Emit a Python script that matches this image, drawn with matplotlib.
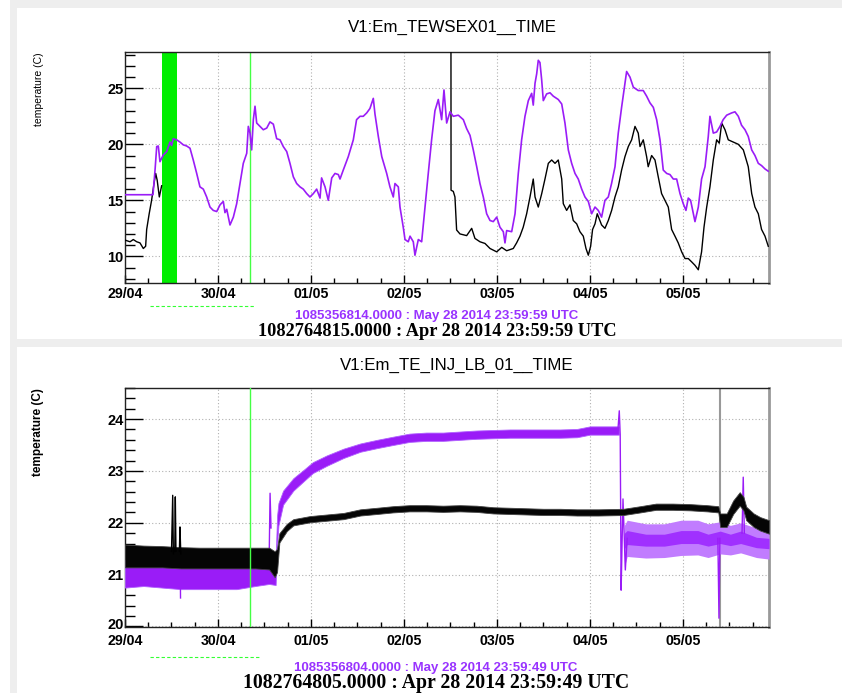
import numpy as np
import matplotlib
matplotlib.use("Agg")
import matplotlib.pyplot as plt
from matplotlib.patches import Rectangle
from matplotlib.lines import Line2D
from matplotlib.transforms import ScaledTranslation

# ---------------- data ----------------
day_labels = ["29/04", "30/04", "01/05", "02/05", "03/05", "04/05", "05/05"]
x_end_days = 6.925

# top panel (V1:Em_TEWSEX01__TIME), x in days since 29/04 00:00
top_purple_x = [0.000, 0.301, 0.323, 0.341, 0.358, 0.376, 0.412, 0.448, 0.484, 0.501, 0.519, 0.555, 0.591,
                0.627, 0.663, 0.699, 0.734, 0.771, 0.806, 0.842, 0.878, 0.914, 0.949, 0.986, 1.022, 1.057,
                1.075, 1.094, 1.129, 1.165, 1.201, 1.237, 1.272, 1.309, 1.326, 1.344, 1.362, 1.380, 1.398,
                1.416, 1.452, 1.487, 1.524, 1.559, 1.595, 1.631, 1.667, 1.702, 1.739, 1.774, 1.810, 1.846,
                1.882, 1.917, 1.954, 1.989, 2.025, 2.061, 2.097, 2.114, 2.151, 2.186, 2.223, 2.258, 2.294,
                2.312, 2.347, 2.401, 2.455, 2.490, 2.527, 2.562, 2.599, 2.634, 2.670, 2.688, 2.724, 2.761,
                2.814, 2.849, 2.885, 2.903, 2.939, 2.957, 2.992, 3.011, 3.046, 3.065, 3.100, 3.118, 3.154,
                3.190, 3.226, 3.261, 3.297, 3.333, 3.369, 3.405, 3.430, 3.459, 3.495, 3.530, 3.584, 3.638,
                3.674, 3.710, 3.745, 3.782, 3.817, 3.853, 3.889, 3.925, 3.960, 3.997, 4.032, 4.068, 4.086,
                4.104, 4.158, 4.194, 4.229, 4.265, 4.301, 4.337, 4.373, 4.390, 4.409, 4.427, 4.444, 4.462,
                4.480, 4.498, 4.534, 4.570, 4.605, 4.659, 4.696, 4.731, 4.767, 4.803, 4.839, 4.874, 4.911,
                4.946, 4.982, 5.018, 5.054, 5.089, 5.125, 5.161, 5.197, 5.232, 5.269, 5.304, 5.340, 5.376,
                5.394, 5.430, 5.466, 5.519, 5.573, 5.609, 5.645, 5.681, 5.717, 5.753, 5.788, 5.825, 5.860,
                5.896, 5.932, 5.968, 6.003, 6.032, 6.057, 6.082, 6.129, 6.165, 6.200, 6.237, 6.272, 6.290,
                6.326, 6.362, 6.398, 6.432, 6.470, 6.523, 6.559, 6.595, 6.630, 6.667, 6.702, 6.739, 6.774,
                6.810, 6.845, 6.882, 6.917]
top_purple_y = [15.5, 15.5, 17.7, 19.8, 19.85, 18.45, 19.05, 19.35, 20.2, 19.9, 20.5, 20.4, 20.2,
                19.95, 19.85, 19.65, 18.6, 17.4, 16.2, 16.0, 15.3, 14.4, 14.1, 14.0, 14.6, 14.9,
                13.9, 14.2, 12.8, 13.5, 14.7, 16.5, 18.3, 19.2, 21.6, 21.0, 19.5, 22.2, 23.4,
                21.9, 21.6, 21.3, 21.45, 22.0, 21.8, 20.5, 20.4, 19.8, 19.35, 18.3, 17.1, 16.5,
                16.2, 16.0, 15.6, 15.3, 15.6, 16.0, 15.2, 17.0, 16.2, 15.0, 17.0, 17.4, 17.3,
                16.9, 17.7, 18.9, 20.4, 22.2, 22.5, 22.5, 22.8, 23.2, 24.1, 22.7, 20.7, 18.9,
                17.4, 16.2, 15.3, 16.5, 16.2, 14.4, 12.6, 11.5, 11.3, 11.8, 11.3, 10.1, 11.5,
                11.3, 14.4, 17.4, 20.4, 23.0, 24.0, 22.2, 24.85, 21.9, 22.9, 22.5, 22.6, 22.2,
                21.4, 20.8, 19.5, 18.0, 16.5, 15.3, 13.8, 13.2, 13.1, 13.5, 12.6, 12.2, 11.2,
                12.3, 12.2, 13.8, 17.4, 20.4, 22.5, 23.9, 24.55, 23.5, 25.45, 26.3, 27.5, 27.3,
                25.8, 23.9, 24.5, 24.6, 24.3, 24.0, 23.6, 21.9, 19.5, 18.3, 17.4, 16.9, 16.0,
                15.3, 14.9, 13.8, 14.4, 14.1, 13.5, 15.0, 15.3, 16.5, 18.0, 21.0, 23.3, 25.45,
                26.5, 26.0, 25.1, 24.8, 24.8, 24.3, 23.7, 23.3, 22.2, 20.4, 17.7, 17.4, 17.3,
                16.9, 16.9, 15.6, 14.7, 14.1, 15.2, 15.0, 13.1, 14.4, 16.9, 18.0, 20.7, 22.5,
                21.0, 21.1, 21.6, 22.2, 22.6, 22.8, 22.9, 22.5, 21.7, 21.3, 20.7, 19.5, 19.0,
                18.3, 18.1, 17.8, 17.6]

top_black1_x = [0.000, 0.054, 0.089, 0.126, 0.161, 0.197, 0.222, 0.233, 0.260, 0.286, 0.312, 0.330,
                0.346, 0.369, 0.394]
top_black1_y = [11.45, 11.3, 11.5, 11.3, 11.2, 10.7, 10.9, 12.4, 13.8, 15.0, 16.5, 17.4, 16.8, 15.3, 16.3]

top_black2_x = [3.505, 3.506, 3.530, 3.548, 3.566, 3.602, 3.674, 3.728, 3.763, 3.817, 3.871, 3.925,
                3.997, 4.051, 4.104, 4.175, 4.211, 4.247, 4.282, 4.319, 4.355, 4.390, 4.409, 4.444,
                4.481, 4.516, 4.552, 4.588, 4.624, 4.659, 4.696, 4.713, 4.749, 4.785, 4.820, 4.857,
                4.892, 4.928, 4.957, 4.982, 5.007, 5.028, 5.054, 5.078, 5.125, 5.161, 5.197, 5.233,
                5.269, 5.304, 5.340, 5.376, 5.412, 5.448, 5.484, 5.519, 5.538, 5.573, 5.609, 5.626,
                5.663, 5.699, 5.734, 5.770, 5.806, 5.842, 5.878, 5.914, 5.949, 5.986, 6.022, 6.057,
                6.094, 6.129, 6.165, 6.200, 6.226, 6.255, 6.290, 6.326, 6.362, 6.390, 6.416, 6.452,
                6.487, 6.541, 6.595, 6.649, 6.702, 6.739, 6.774, 6.810, 6.845, 6.882, 6.917]
top_black2_y = [30.0, 15.9, 15.8, 15.3, 12.35, 12.0, 11.85, 12.5, 11.6, 11.3, 11.15, 10.7,
                10.4, 10.8, 10.5, 10.7, 11.2, 11.8, 12.6, 13.8, 15.3, 16.9, 15.3, 14.4,
                15.6, 16.9, 18.3, 18.6, 18.3, 18.6, 16.9, 14.7, 14.1, 14.6, 13.2, 12.9,
                12.2, 11.8, 10.7, 10.1, 10.9, 12.4, 12.9, 13.8, 12.8, 12.5, 13.2, 14.1,
                15.3, 16.2, 17.7, 18.9, 19.8, 20.4, 21.6, 21.0, 19.8, 20.4, 18.9, 18.0,
                19.0, 18.6, 17.1, 15.6, 15.0, 14.4, 12.4, 11.8, 11.2, 10.4, 9.8, 9.8,
                9.5, 9.2, 8.8, 10.4, 12.6, 14.4, 16.2, 18.6, 20.4, 20.1, 21.9, 21.3,
                20.4, 20.2, 20.0, 19.5, 18.0, 15.6, 14.4, 13.8, 12.4, 11.8, 10.9]

top_green_band = (0.394, 0.562)
green_marker_day = 1.344

# bottom panel (V1:Em_TE_INJ_LB_01__TIME): noisy bands given as lower / upper envelopes
bot_black_x = [0.00, 0.20, 0.40, 0.60, 0.80, 1.00, 1.20, 1.40, 1.55, 1.61, 1.635, 1.66, 1.74, 1.81,
               1.99, 2.17, 2.35, 2.53, 2.71, 2.88, 3.06, 3.24, 3.42, 3.60, 3.78, 3.96, 4.14, 4.32,
               4.50, 4.68, 4.86, 5.09, 5.36, 5.54, 5.71, 5.89, 6.08, 6.26, 6.38, 6.40, 6.47, 6.54,
               6.61, 6.65, 6.68, 6.76, 6.83, 6.925]
bot_black_lo = [21.14, 21.14, 21.14, 21.12, 21.12, 21.12, 21.12, 21.12, 21.10, 20.95, 21.05, 21.62, 21.84,
                21.95, 22.01, 22.04, 22.07, 22.14, 22.17, 22.20, 22.22, 22.22, 22.21, 22.22, 22.21, 22.18,
                22.17, 22.16, 22.15, 22.15, 22.14, 22.14, 22.15, 22.20, 22.25, 22.25, 22.24, 22.22, 22.20,
                21.92, 21.92, 22.17, 22.33, 22.24, 22.05, 21.92, 21.85, 21.79]
bot_black_hi = [21.58, 21.56, 21.55, 21.53, 21.52, 21.52, 21.52, 21.52, 21.52, 21.45, 21.50, 21.80, 21.98,
                22.07, 22.13, 22.16, 22.19, 22.26, 22.29, 22.32, 22.34, 22.34, 22.33, 22.34, 22.33, 22.30,
                22.29, 22.28, 22.27, 22.27, 22.26, 22.26, 22.27, 22.32, 22.37, 22.37, 22.36, 22.34, 22.32,
                22.18, 22.18, 22.43, 22.59, 22.50, 22.31, 22.18, 22.11, 22.05]

bot_purple_x = [0.00, 0.20, 0.40, 0.60, 0.80, 1.00, 1.20, 1.40, 1.55, 1.62, 1.636, 1.65, 1.70, 1.81,
                1.92, 2.02, 2.17, 2.35, 2.53, 2.71, 2.88, 3.06, 3.24, 3.42, 3.60, 3.78, 3.96, 4.14,
                4.32, 4.50, 4.68, 4.86, 5.00, 5.18, 5.31]
bot_purple_lo = [20.75, 20.78, 20.75, 20.72, 20.72, 20.72, 20.72, 20.78, 20.82, 20.80, 21.60, 21.95,
                 22.35, 22.62, 22.80, 22.96, 23.10, 23.25, 23.37, 23.44, 23.50, 23.56, 23.58, 23.58,
                 23.60, 23.62, 23.63, 23.64, 23.64, 23.64, 23.64, 23.65, 23.70, 23.70, 23.70]
bot_purple_hi = [21.28, 21.26, 21.28, 21.24, 21.20, 21.20, 21.22, 21.28, 21.33, 21.36, 22.15, 22.38,
                 22.62, 22.86, 23.02, 23.17, 23.30, 23.43, 23.53, 23.60, 23.66, 23.72, 23.74, 23.74,
                 23.76, 23.78, 23.79, 23.80, 23.80, 23.80, 23.80, 23.81, 23.86, 23.86, 23.86]

bot_purple2_x = [5.37, 5.40, 5.60, 5.80, 5.98, 6.16, 6.27, 6.40, 6.51, 6.62, 6.79, 6.925]
bot_purple2_lo = [21.15, 21.35, 21.32, 21.33, 21.37, 21.38, 21.33, 21.40, 21.38, 21.42, 21.33, 21.30]
bot_purple2_hi = [21.95, 22.05, 21.98, 21.98, 22.05, 22.05, 21.98, 22.02, 21.95, 22.00, 21.90, 21.85]
bot_purple2_core_lo = [21.50, 21.58, 21.55, 21.55, 21.60, 21.60, 21.55, 21.60, 21.56, 21.60, 21.52, 21.50]
bot_purple2_core_hi = [21.80, 21.85, 21.78, 21.78, 21.85, 21.85, 21.78, 21.84, 21.78, 21.84, 21.72, 21.70]

# isolated spikes, one (x list, y list) per spike, x in days
bot_black_spikes = [
    ([0.500, 0.513, 0.520], [21.45, 22.53, 21.40]),
    ([0.535, 0.541, 0.548], [21.45, 22.50, 21.45]),
    ([0.585, 0.591, 0.600], [21.45, 21.92, 21.40]),
]
bot_purple_spikes = [
    ([0.585, 0.591, 0.597], [21.00, 21.76, 20.55]),
    ([1.550, 1.560, 1.570], [21.30, 22.57, 21.90]),
    ([5.300, 5.315, 5.325, 5.335, 5.345, 5.355, 5.380, 5.400],
     [23.78, 24.16, 23.70, 20.70, 21.60, 22.46, 21.09, 21.70]),
    ([6.375, 6.387, 6.397], [21.70, 20.16, 21.70]),
    ([6.635, 6.648, 6.660], [21.80, 22.88, 21.80]),
]
gray_marker_day = 6.40

top_title = "V1:Em_TEWSEX01__TIME"
bot_title = "V1:Em_TE_INJ_LB_01__TIME"
ylabel = "temperature (C)"
top_cap_purple = "1085356814.0000 : May 28 2014 23:59:59 UTC"
top_cap_black = "1082764815.0000 : Apr 28 2014 23:59:59 UTC"
bot_cap_purple = "1085356804.0000 : May 28 2014 23:59:49 UTC"
bot_cap_black = "1082764805.0000 : Apr 28 2014 23:59:49 UTC"

# ---------------- style ----------------
SANS = "Liberation Sans"
SERIF = "Liberation Serif"
PURPLE = "#9a1cf7"
PURPLE_TXT = "#9933ff"
GREEN = "#00ee00"
W, H = 842, 693


def fx(px):
    return px / W


def fy(py):
    return 1 - py / H


fig = plt.figure(figsize=(W / 100, H / 100), dpi=100)
fig.patch.set_facecolor("white")
for (x0, y0, x1, y1) in [(10, 0, 842, 8), (10, 0, 17, 693), (10, 339, 842, 347)]:
    fig.add_artist(Rectangle((fx(x0), fy(y1)), fx(x1) - fx(x0), fy(y0) - fy(y1),
                             transform=fig.transFigure, facecolor="#eeeeee", edgecolor="none", zorder=0))


def style_axes(ax, ylim, ymajor, yminor, xpad):
    ax.set_xlim(0, x_end_days)
    ax.set_ylim(*ylim)
    ax.set_xticks(range(len(day_labels)))
    ax.set_xticklabels(day_labels)
    ax.set_xticks(np.arange(0, x_end_days, 0.25), minor=True)
    ax.set_yticks(ymajor)
    ax.set_yticks(yminor, minor=True)
    ax.tick_params(axis="y", which="major", direction="in", length=13, width=1, pad=1,
                   labelsize=10.5, right=False)
    ax.tick_params(axis="y", which="minor", direction="in", length=7, width=1, right=False)
    ax.tick_params(axis="x", which="major", direction="in", length=6, width=1, pad=xpad,
                   labelsize=10.2, top=False)
    ax.tick_params(axis="x", which="minor", direction="in", length=3.5, width=1, top=False)
    for lab in ax.get_xticklabels() + ax.get_yticklabels():
        lab.set_fontfamily(SANS)
        lab.set_fontweight("bold")
    ax.grid(True, which="major", color="#b0b0b0", linestyle=(0, (1, 2)), linewidth=0.8)
    ax.set_axisbelow(True)
    for s in ["left", "top", "bottom"]:
        ax.spines[s].set_color("#222222")
        ax.spines[s].set_linewidth(1)
    ax.spines["right"].set_color("#999999")
    ax.spines["right"].set_linewidth(2)


# ---- top panel ----
ax1 = fig.add_axes([fx(125), fy(283), fx(769) - fx(125), fy(52) - fy(283)])
style_axes(ax1, (7.62, 28.24), [10, 15, 20, 25], np.arange(8, 29, 1), 3)
ax1.axvspan(*top_green_band, color=GREEN, zorder=1, lw=0)
ax1.axvline(green_marker_day, color="#44ff44", lw=1, zorder=1)
ax1.plot(top_black1_x, top_black1_y, color="black", lw=1, zorder=3)
ax1.plot(top_black2_x, top_black2_y, color="black", lw=1, zorder=3)
ax1.plot(top_purple_x, top_purple_y, color=PURPLE, lw=1.2, zorder=4)

# ---- bottom panel ----
ax2 = fig.add_axes([fx(125), fy(627), fx(769) - fx(125), fy(388) - fy(627)])
style_axes(ax2, (19.99, 24.58), [20, 21, 22, 23, 24], np.arange(20.0, 24.6, 0.2), 5)
# lift the lowest y label a little so it clears the first date label
low_lab = ax2.get_yticklabels()[0]
low_lab.set_transform(low_lab.get_transform() + ScaledTranslation(0, 3 / 100, fig.dpi_scale_trans))
ax2.axvline(green_marker_day, color="#44ff44", lw=1, zorder=5)
ax2.axvline(gray_marker_day, color="#999999", lw=1.5, zorder=2)
ax2.fill_between(bot_purple_x, bot_purple_lo, bot_purple_hi, color=PURPLE, lw=0.6,
                 edgecolor="#b060ff", zorder=3)
ax2.fill_between(bot_purple2_x, bot_purple2_lo, bot_purple2_hi, color="#c17cff", lw=0, zorder=3)
ax2.fill_between(bot_purple2_x, bot_purple2_core_lo, bot_purple2_core_hi, color="#a030ff", lw=0, zorder=3)
for sx, sy in bot_purple_spikes:
    ax2.plot(sx, sy, color=PURPLE, lw=1, zorder=3)
ax2.fill_between(bot_black_x, bot_black_lo, bot_black_hi, color="#050505", lw=0.6,
                 edgecolor="#444444", zorder=4)
for sx, sy in bot_black_spikes:
    ax2.plot(sx, sy, color="black", lw=1, zorder=4)

# ---- texts ----
fig.text(fx(452), fy(27), top_title, ha="center", va="center", fontsize=12.2, family=SANS)
fig.text(fx(457), fy(365), bot_title, ha="center", va="center", fontsize=12.2, family=SANS)
fig.text(fx(39), fy(52), ylabel, rotation=90, ha="center", va="top", fontsize=7.5, family=SANS)
fig.text(fx(38), fy(388), ylabel, rotation=90, ha="center", va="top", fontsize=8.5, family=SANS,
         fontweight="bold")
fig.text(fx(437), fy(319.5), top_cap_purple, ha="center", va="baseline", fontsize=9.5,
         family=SANS, fontweight="bold", color=PURPLE_TXT)
fig.text(fx(437), fy(336), top_cap_black, ha="center", va="baseline", fontsize=13.2, family=SERIF,
         fontweight="bold", color="black")
fig.text(fx(436), fy(671), bot_cap_purple, ha="center", va="baseline", fontsize=9.5,
         family=SANS, fontweight="bold", color=PURPLE_TXT)
fig.text(fx(436), fy(688), bot_cap_black, ha="center", va="baseline", fontsize=14.2, family=SERIF,
         fontweight="bold", color="black")

# green dashed marks under the axes
for yy, x1 in [(305.5, 255), (657, 259)]:
    fig.add_artist(Line2D([fx(150), fx(x1)], [fy(yy), fy(yy)], transform=fig.transFigure,
                          color="#33ff33", lw=0.8, linestyle=(0, (3, 2))))

fig.savefig("out.png", dpi=100, facecolor=fig.get_facecolor())
